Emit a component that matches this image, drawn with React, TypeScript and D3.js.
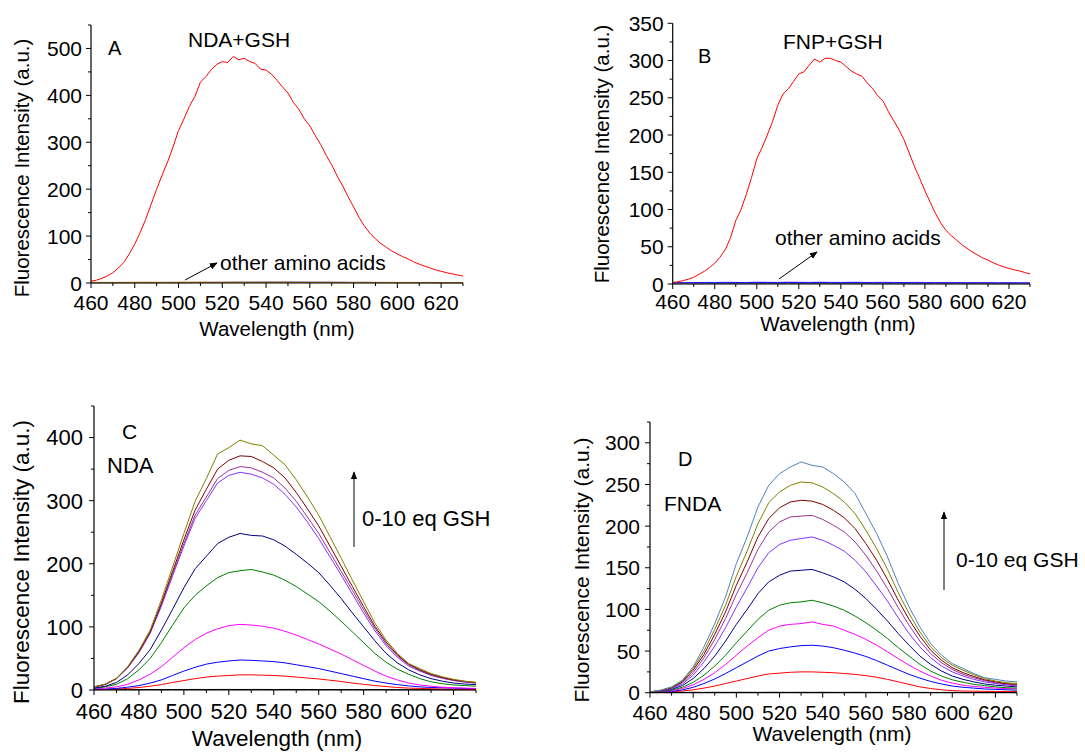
import React from 'react';
import * as d3 from 'd3';

// ---------- wavelength grids (nm) ----------
const WL_FINE = d3.range(460, 630.01, 2.5);
const WL = d3.range(460, 630.01, 5);

// ---------- Panel A: NDA + GSH (2.5 nm grid) ----------
const A_GSH = [4, 6, 10, 15, 22, 32, 44, 62, 83, 108, 136, 168, 200, 230, 258, 290, 325, 350, 377, 398, 428, 440, 455, 466, 472, 470, 483, 476, 479, 472, 468, 456, 454, 445, 432, 418, 405, 385, 370, 350, 335, 314, 295, 272, 252, 228, 207, 184, 162, 140, 121, 106, 94, 84, 76, 68, 62, 56, 51, 45, 40, 36, 32, 28, 25, 22, 19.5, 17, 15];
const A_OTHER_BLUE = [0.8, 0.9, 1.0, 0.9, 1.1, 1.0, 1.2, 1.1, 1.3, 1.2, 1.4, 1.5, 1.6, 1.7, 1.9, 2.0, 2.2, 2.1, 2.3, 2.2, 2.0, 1.9, 1.7, 1.6, 1.4, 1.3, 1.2, 1.1, 1.0, 1.0, 0.9, 0.9, 0.8, 0.8, 0.7];
const A_OTHER_GRAY = [0.5, 0.6, 0.5, 0.6, 0.7, 0.6, 0.7, 0.8, 0.7, 0.8, 0.9, 0.8, 0.9, 1.0, 0.9, 1.0, 1.1, 1.0, 1.1, 1.0, 0.9, 1.0, 0.9, 0.8, 0.9, 0.8, 0.7, 0.8, 0.7, 0.6, 0.7, 0.6, 0.5, 0.6, 0.5];
const A_OTHER_ORANGE = [1.2, 1.3, 1.2, 1.4, 1.3, 1.5, 1.4, 1.3, 1.5, 1.4, 1.6, 1.5, 1.4, 1.6, 1.5, 1.4, 1.5, 1.6, 1.4, 1.5, 1.3, 1.4, 1.5, 1.3, 1.2, 1.4, 1.3, 1.2, 1.3, 1.2, 1.1, 1.2, 1.1, 1.0, 1.1];
const A_OTHER_OLIVE = [0.9, 1.0, 1.1, 1.0, 1.2, 1.1, 1.0, 1.2, 1.1, 1.3, 1.2, 1.1, 1.2, 1.3, 1.2, 1.1, 1.2, 1.3, 1.2, 1.1, 1.2, 1.1, 1.0, 1.1, 1.0, 1.1, 1.0, 0.9, 1.0, 0.9, 1.0, 0.9, 0.8, 0.9, 0.8];

// ---------- Panel B: FNP + GSH (2.5 nm grid) ----------
const B_GSH = [2, 3, 4.5, 6.5, 9, 13, 17, 22, 28, 36, 46, 62, 85, 100, 120, 143, 168, 183, 200, 218, 240, 255, 262, 272, 282, 285, 294, 302, 298, 303, 303, 300, 298, 292, 286, 282, 279, 270, 263, 253, 246, 232, 220, 208, 194, 176, 158, 142, 125, 110, 95, 82, 72, 65, 59, 53, 48, 43, 39, 35, 32, 28.5, 25.5, 23, 21, 19, 17.5, 15.5, 13.5];
const B_OTHER_GRAY = [0.4, 0.5, 0.4, 0.5, 0.6, 0.5, 0.6, 0.5, 0.6, 0.7, 0.6, 0.5, 0.6, 0.7, 0.6, 0.5, 0.6, 0.5, 0.6, 0.5, 0.4, 0.5, 0.6, 0.5, 0.4, 0.5, 0.4, 0.5, 0.4, 0.5, 0.4, 0.3, 0.4, 0.3, 0.4];
const B_OTHER_PURPLE = [1.5, 1.7, 1.9, 2.2, 2.0, 2.6, 2.3, 2.1, 2.8, 2.4, 2.2, 2.9, 2.5, 2.3, 2.7, 2.4, 2.2, 2.6, 2.3, 2.1, 2.5, 2.2, 2.0, 2.3, 2.1, 1.9, 2.2, 2.0, 1.8, 2.1, 1.9, 1.7, 2.0, 1.8, 1.6];
const B_OTHER_BLUE = [1.6, 1.7, 1.7, 1.8, 1.8, 1.8, 1.9, 1.8, 1.9, 1.9, 1.8, 1.9, 1.9, 1.8, 1.9, 1.8, 1.8, 1.9, 1.8, 1.8, 1.7, 1.8, 1.8, 1.7, 1.7, 1.7, 1.6, 1.7, 1.6, 1.6, 1.6, 1.5, 1.6, 1.5, 1.5];

// ---------- Panel C: NDA titrated with 0-10 eq GSH (5 nm grid) ----------
const C_0 = [0.6, 0.6, 0.7, 0.6, 0.7, 0.8, 0.7, 0.8, 0.8, 0.9, 0.8, 0.9, 0.9, 0.8, 0.9, 0.9, 0.8, 0.9, 0.8, 0.8, 0.7, 0.8, 0.7, 0.7, 0.6, 0.7, 0.6, 0.6, 0.6, 0.5, 0.6, 0.5, 0.5, 0.5, 0.5];
const C_1 = [0.5, 1, 1.5, 2.5, 4, 6, 8.5, 12, 15, 18, 20.5, 22, 23, 24, 24, 23.5, 23, 22, 20.5, 19, 17.5, 15.5, 13.5, 11, 9, 7, 5.5, 4, 3, 2.5, 2, 1.5, 1.2, 1, 1];
const C_2 = [1, 1.5, 2.5, 4.5, 7, 11, 16, 23, 30, 36, 41, 44, 46, 47.5, 47, 46, 45, 43, 40, 37, 34, 30, 26, 22, 18, 14, 11, 8.5, 6.5, 5, 4, 3.5, 3, 2.5, 2];
const C_3 = [1.5, 3, 5, 9, 16, 25, 37, 52, 67, 80, 90, 97, 102, 104, 103, 101, 98, 93, 87, 80, 73, 65, 57, 48, 39, 30, 22, 16, 11, 8, 6, 4.5, 3.5, 3, 2.5];
const C_4 = [2.5, 5, 9, 18, 32, 50, 75, 103, 130, 150, 165, 178, 186, 189, 191, 187, 182, 174, 164, 152, 140, 125, 109, 92, 75, 58, 44, 33, 25, 18, 13, 10, 8, 7, 6];
const C_5 = [3, 6, 12, 24, 42, 64, 95, 128, 162, 192, 212, 232, 242, 248, 245, 244, 238, 228, 215, 201, 186, 166, 145, 122, 100, 78, 58, 43, 32, 24, 18, 14, 11, 9.5, 8.5];
const C_6 = [4, 9, 18, 35, 59, 90, 133, 181, 228, 272, 300, 328, 340, 345, 342, 336, 326, 310, 290, 266, 240, 211, 182, 152, 122, 94, 70, 52, 38, 30, 23, 18.5, 15, 12.5, 11];
const C_7 = [4.5, 9, 18, 36, 60, 91, 135, 184, 232, 277, 306, 335, 348, 354, 352, 345, 336, 320, 299, 274, 248, 218, 188, 158, 127, 98, 73, 54, 40, 31, 24, 19, 15.5, 13, 11];
const C_8 = [5, 9, 18, 36, 61, 92, 138, 188, 238, 285, 318, 350, 364, 371, 370, 362, 352, 336, 313, 287, 260, 228, 196, 164, 132, 101, 76, 56, 41, 32, 25, 20, 16, 13.5, 12];
const C_9 = [5, 9.5, 18.5, 37, 63, 95, 143, 195, 248, 299, 335, 374, 384, 396, 390, 387, 372, 357, 333, 306, 277, 243, 209, 174, 140, 106, 79, 58, 42, 34, 26, 21, 17, 14, 12];

// ---------- Panel D: FNDA titrated with 0-10 eq GSH (5 nm grid) ----------
const D_0 = [0.3, 0.4, 0.3, 0.4, 0.5, 0.4, 0.5, 0.4, 0.5, 0.5, 0.4, 0.5, 0.5, 0.4, 0.5, 0.4, 0.5, 0.4, 0.4, 0.5, 0.4, 0.4, 0.3, 0.4, 0.3, 0.4, 0.3, 0.3, 0.4, 0.3, 0.3, 0.3, 0.3, 0.3, 0.3];
const D_1 = [0.2, 0.5, 1, 2, 3.5, 5.5, 8, 11, 14, 17, 20, 22.5, 23.5, 24.5, 25, 25, 24.5, 24, 23, 22, 20.5, 18.5, 16, 13, 10, 7, 5, 3.5, 2.5, 2, 1.8, 1.6, 1.5, 1.4, 1.3];
const D_2 = [0.4, 0.8, 1.6, 3.3, 6.5, 11, 16.5, 23, 30, 37, 44, 50, 53, 55, 56.5, 57, 56, 54, 51, 47.5, 43.5, 38.5, 33, 27.5, 22, 17.5, 13.5, 10.5, 8, 6.5, 5.5, 4.5, 4, 3.5, 3];
const D_3 = [0.5, 1, 2.3, 5, 9.5, 16, 24, 34, 45, 56, 66, 75, 80, 82, 83, 85, 82, 80, 75, 70, 64, 57, 49, 41, 33, 26, 20, 15, 11.5, 9, 7.5, 6.5, 5.5, 5, 4.5];
const D_4 = [0.6, 1.3, 3, 6.5, 12.5, 21, 32, 45, 60, 74, 88, 99, 105, 108, 109, 111, 108, 104, 99, 92, 84, 75, 65, 54, 44, 34, 26, 20, 15.5, 12.5, 10, 8.5, 7, 6, 5.5];
const D_5 = [0.8, 1.8, 4, 8.5, 17, 29, 44, 62, 82, 100, 119, 133, 141, 146, 147, 148, 144, 139, 133, 124, 113, 100, 86, 71, 57, 44, 34, 26, 20, 16, 13, 10.5, 9, 8, 7];
const D_6 = [1, 2, 5, 10.5, 21, 37, 56, 78, 103, 126, 150, 168, 178, 183, 185, 187, 183, 177, 170, 159, 145, 128, 110, 90, 71, 55, 42, 32, 25, 20, 16, 13, 11, 9.5, 8];
const D_7 = [1, 2.5, 5.5, 12, 24, 42, 64, 89, 118, 144, 172, 193, 205, 211, 212, 213, 208, 201, 193, 181, 165, 146, 125, 102, 81, 62, 47, 36, 28, 22, 18, 14.5, 12, 10.5, 9];
const D_8 = [1, 2.5, 6, 13, 27, 46, 70, 97, 129, 157, 187, 209, 222, 229, 231, 230, 226, 219, 210, 197, 179, 159, 136, 111, 88, 68, 51, 39, 30, 24, 19.5, 15.5, 13, 11, 10];
const D_9 = [1, 3, 6.5, 14, 29, 50, 76, 105, 140, 170, 203, 228, 241, 249, 253, 252, 247, 239, 229, 215, 195, 173, 148, 120, 95, 73, 55, 42, 33, 27, 21.5, 17, 14, 12, 11];
const D_10 = [1, 3, 7, 15, 31, 55, 83, 115, 155, 187, 223, 249, 263, 271, 277, 273, 271, 263, 253, 239, 215, 191, 163, 131, 103, 79, 59, 45, 35, 29, 23, 18, 16, 14, 13];

// ---------- tick labels ----------
const X_TICKS = [460, 480, 500, 520, 540, 560, 580, 600, 620];
const X_MINOR = [470, 490, 510, 530, 550, 570, 590, 610, 630];
const A_Y_TICKS = [0, 100, 200, 300, 400, 500];
const A_Y_MINOR = [50, 150, 250, 350, 450, 550];
const B_Y_TICKS = [0, 50, 100, 150, 200, 250, 300, 350];
const B_Y_MINOR = [25, 75, 125, 175, 225, 275, 325];
const C_Y_TICKS = [0, 100, 200, 300, 400];
const C_Y_MINOR = [50, 150, 250, 350, 450];
const D_Y_TICKS = [0, 50, 100, 150, 200, 250, 300];
const D_Y_MINOR = [25, 75, 125, 175, 225, 275, 325];

const FONT = "'Liberation Sans', Arial, Helvetica, sans-serif";

type Series = { wl: number[]; values: number[]; color: string };

type PanelProps = {
  left: number; right: number; top: number; bottom: number;
  yMax: number; yTicks: number[]; yMinor: number[];
  series: Series[];
  font: number; titleFont: number;
  xLabelDy: number; yLabelGap: number;
  xTitle: [number, number]; yTitle: [number, number];
  children?: React.ReactNode;
};

function Panel(p: PanelProps) {
  const x = d3.scaleLinear().domain([460, 630]).range([p.left, p.right]);
  const y = d3.scaleLinear().domain([0, p.yMax]).range([p.bottom, p.top]);
  const majorLen = 5, minorLen = 3;
  return (
    <g fontFamily={FONT} fill="#000">
      {p.series.map((s, i) => {
        const line = d3.line<number>().x((_, j) => x(s.wl[j])).y(d => y(d));
        return <path key={i} d={line(s.values) || ''} fill="none" stroke={s.color} strokeWidth={1} />;
      })}
      <line x1={p.left} x2={p.right} y1={p.bottom} y2={p.bottom} stroke="#000" strokeWidth={1.2} />
      <line x1={p.left} x2={p.left} y1={p.top} y2={p.bottom} stroke="#000" strokeWidth={1.2} />
      {X_TICKS.map(t => (
        <g key={'xt' + t}>
          <line x1={x(t)} x2={x(t)} y1={p.bottom} y2={p.bottom + majorLen} stroke="#000" />
          <text x={x(t)} y={p.bottom + p.xLabelDy} textAnchor="middle" fontSize={p.font}>{t}</text>
        </g>
      ))}
      {X_MINOR.map(t => (
        <line key={'xm' + t} x1={x(t)} x2={x(t)} y1={p.bottom} y2={p.bottom + minorLen} stroke="#000" />
      ))}
      {p.yTicks.map(t => (
        <g key={'yt' + t}>
          <line x1={p.left - majorLen} x2={p.left} y1={y(t)} y2={y(t)} stroke="#000" />
          <text x={p.left - p.yLabelGap} y={y(t)} dy="0.36em" textAnchor="end" fontSize={p.font}>{t}</text>
        </g>
      ))}
      {p.yMinor.map(t => (
        <line key={'ym' + t} x1={p.left - minorLen} x2={p.left} y1={y(t)} y2={y(t)} stroke="#000" />
      ))}
      <text x={p.xTitle[0]} y={p.xTitle[1]} textAnchor="middle" fontSize={p.titleFont}>Wavelength (nm)</text>
      <text transform={`translate(${p.yTitle[0]},${p.yTitle[1]}) rotate(-90)`} textAnchor="middle" fontSize={p.titleFont}>
        Fluorescence Intensity (a.u.)
      </text>
      {p.children}
    </g>
  );
}

export default function App() {
  const C_COLORS = ['#000000', '#ff0000', '#0000ff', '#ff00ff', '#008000', '#000080', '#8833ff', '#993399', '#800000', '#808000'];
  const D_COLORS = ['#000000', '#ff0000', '#0000ff', '#ff00ff', '#008000', '#000080', '#8833ff', '#993399', '#800000', '#808000', '#4f81bd'];
  const C_SERIES = [C_0, C_1, C_2, C_3, C_4, C_5, C_6, C_7, C_8, C_9];
  const D_SERIES = [D_0, D_1, D_2, D_3, D_4, D_5, D_6, D_7, D_8, D_9, D_10];

  return (
    <svg width={1085} height={753} viewBox="0 0 1085 753" style={{ position: 'absolute', left: 0, top: 0, background: '#fff' }}>
      <defs>
        <marker id="arrowHead" viewBox="0 0 10 10" refX="9" refY="5" markerWidth="8" markerHeight="8" orient="auto-start-reverse" markerUnits="userSpaceOnUse">
          <path d="M0,1 L10,5 L0,9 z" fill="#000" />
        </marker>
      </defs>
      <rect x={0} y={0} width={1085} height={753} fill="#fff" />

      {/* Panel A */}
      <Panel left={91} right={463} top={25} bottom={283} yMax={550}
        yTicks={A_Y_TICKS} yMinor={A_Y_MINOR}
        series={[
          { wl: WL, values: A_OTHER_BLUE, color: '#6666cc' },
          { wl: WL, values: A_OTHER_GRAY, color: '#808080' },
          { wl: WL, values: A_OTHER_OLIVE, color: '#808000' },
          { wl: WL, values: A_OTHER_ORANGE, color: '#c08020' },
          { wl: WL_FINE, values: A_GSH, color: '#ff0000' },
        ]}
        font={21} titleFont={20.5} xLabelDy={27} yLabelGap={9}
        xTitle={[277, 336]} yTitle={[29, 168]}>
        <text x={108} y={55} fontSize={20}>A</text>
        <text x={188} y={47} fontSize={21}>NDA+GSH</text>
        <text x={220} y={270} fontSize={21}>other amino acids</text>
        <line x1={185} y1={280} x2={217} y2={263} stroke="#000" strokeWidth={1} markerEnd="url(#arrowHead)" />
      </Panel>

      {/* Panel B */}
      <Panel left={672.7} right={1030} top={23.3} bottom={284} yMax={350}
        yTicks={B_Y_TICKS} yMinor={B_Y_MINOR}
        series={[
          { wl: WL, values: B_OTHER_GRAY, color: '#707070' },
          { wl: WL, values: B_OTHER_PURPLE, color: '#cc88ee' },
          { wl: WL, values: B_OTHER_BLUE, color: '#0000ff' },
          { wl: WL_FINE, values: B_GSH, color: '#ff0000' },
        ]}
        font={21} titleFont={20.5} xLabelDy={25} yLabelGap={9}
        xTitle={[838, 331]} yTitle={[609, 154]}>
        <text x={698} y={63} fontSize={20}>B</text>
        <text x={783} y={49} fontSize={21}>FNP+GSH</text>
        <text x={775} y={245} fontSize={21}>other amino acids</text>
        <line x1={779} y1={279} x2={817} y2={252} stroke="#000" strokeWidth={1} markerEnd="url(#arrowHead)" />
      </Panel>

      {/* Panel C */}
      <Panel left={94} right={476} top={406} bottom={690} yMax={450}
        yTicks={C_Y_TICKS} yMinor={C_Y_MINOR}
        series={C_SERIES.map((v, i) => ({ wl: WL, values: v, color: C_COLORS[i] }))}
        font={22} titleFont={22.5} xLabelDy={29} yLabelGap={11}
        xTitle={[277, 746]} yTitle={[29, 562]}>
        <text x={122} y={439} fontSize={21}>C</text>
        <text x={107} y={473} fontSize={22}>NDA</text>
        <text x={362} y={526} fontSize={22}>0-10 eq GSH</text>
        <line x1={354} y1={547} x2={354} y2={472} stroke="#000" strokeWidth={1} markerEnd="url(#arrowHead)" />
      </Panel>

      {/* Panel D */}
      <Panel left={650} right={1017} top={422} bottom={692.7} yMax={325}
        yTicks={D_Y_TICKS} yMinor={D_Y_MINOR}
        series={D_SERIES.map((v, i) => ({ wl: WL, values: v, color: D_COLORS[i] }))}
        font={21} titleFont={21} xLabelDy={27} yLabelGap={10}
        xTitle={[832, 741]} yTitle={[589, 570]}>
        <text x={678} y={466} fontSize={20}>D</text>
        <text x={664} y={511} fontSize={21}>FNDA</text>
        <text x={956} y={567} fontSize={21}>0-10 eq GSH</text>
        <line x1={944} y1={590} x2={944} y2={512} stroke="#000" strokeWidth={1} markerEnd="url(#arrowHead)" />
      </Panel>
    </svg>
  );
}
